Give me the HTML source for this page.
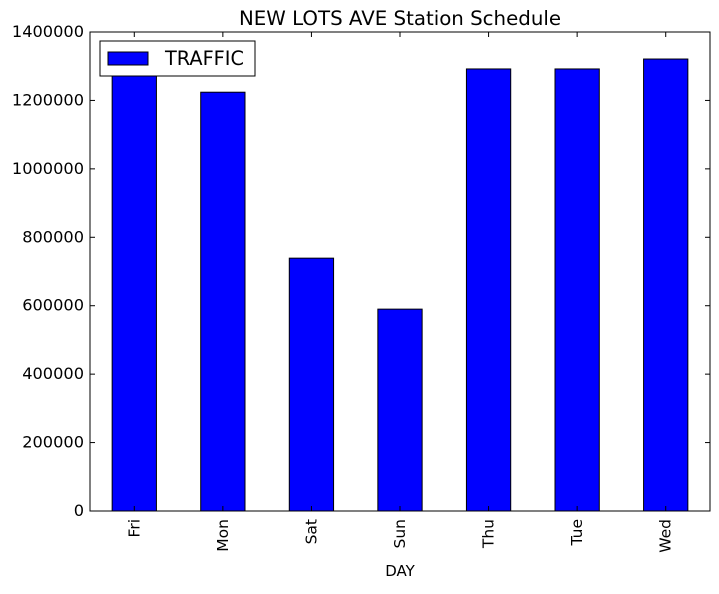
<!DOCTYPE html>
<html><head><meta charset="utf-8"><style>
body{margin:0;background:#fff;}
svg text{font-family:"DejaVu Sans","Liberation Sans",sans-serif;}
</style></head><body>
<svg id="chart" width="719" height="589">
<rect width="719" height="589" fill="#fff"/>
<text x="400" y="25" font-size="19.8" text-anchor="middle">NEW LOTS AVE Station Schedule</text>
<g id="bars"></g>
<g id="axes"></g>
<text x="400" y="576" font-size="15" text-anchor="middle">DAY</text>
<g>
<rect x="100" y="41" width="155" height="35" fill="#fff" stroke="#000" stroke-width="1"/>
<rect x="108" y="52" width="40" height="13" fill="#0000ff" stroke="#000"/>
<text x="165" y="65" font-size="19.3">TRAFFIC</text>
</g>
</svg>
<script>
const categories=["Fri","Mon","Sat","Sun","Thu","Tue","Wed"];
const traffic=[1280000,1224000,739000,590000,1292000,1292000,1321000];
const yTicks=[0,200000,400000,600000,800000,1000000,1200000,1400000];
const L=90,R=710,T=32,B=511,YMAX=1400000;
const ns="http://www.w3.org/2000/svg";
const step=(R-L)/categories.length;
const x=i=>L+step*(i+0.5);
const y=v=>B-(v/YMAX)*(B-T);
function mk(tag,attrs,parent){const e=document.createElementNS(ns,tag);for(const k in attrs)e.setAttribute(k,attrs[k]);parent.appendChild(e);return e;}
const bars=document.getElementById('bars'),axes=document.getElementById('axes');
categories.forEach((c,i)=>{
 const w=step*0.5;
 const r=mk('rect',{x:x(i)-w/2,y:y(traffic[i]),width:w,height:B-y(traffic[i]),fill:'#0000ff',stroke:'#000','stroke-width':1},bars);
 
 
 mk('line',{x1:x(i),x2:x(i),y1:B,y2:B-5,stroke:'#000'},axes);
 mk('line',{x1:x(i),x2:x(i),y1:T,y2:T+5,stroke:'#000'},axes);
 const t=mk('text',{x:0,y:0,'font-size':15.5,'text-anchor':'end',transform:`translate(${x(i)+5},${B+8}) rotate(-90)`},axes);
 t.textContent=c;
 
 
});
yTicks.forEach(v=>{
 mk('line',{x1:L,x2:L+5,y1:y(v),y2:y(v),stroke:'#000'},axes);
 mk('line',{x1:R,x2:R-5,y1:y(v),y2:y(v),stroke:'#000'},axes);
 const t=mk('text',{x:L-6,y:y(v)+5,'font-size':16.2,'text-anchor':'end'},axes);
 t.textContent=v;
 
 
});
const f=mk('rect',{x:L,y:T,width:R-L,height:B-T,fill:'none',stroke:'#000','stroke-width':1},axes);


</script>
</body></html>
